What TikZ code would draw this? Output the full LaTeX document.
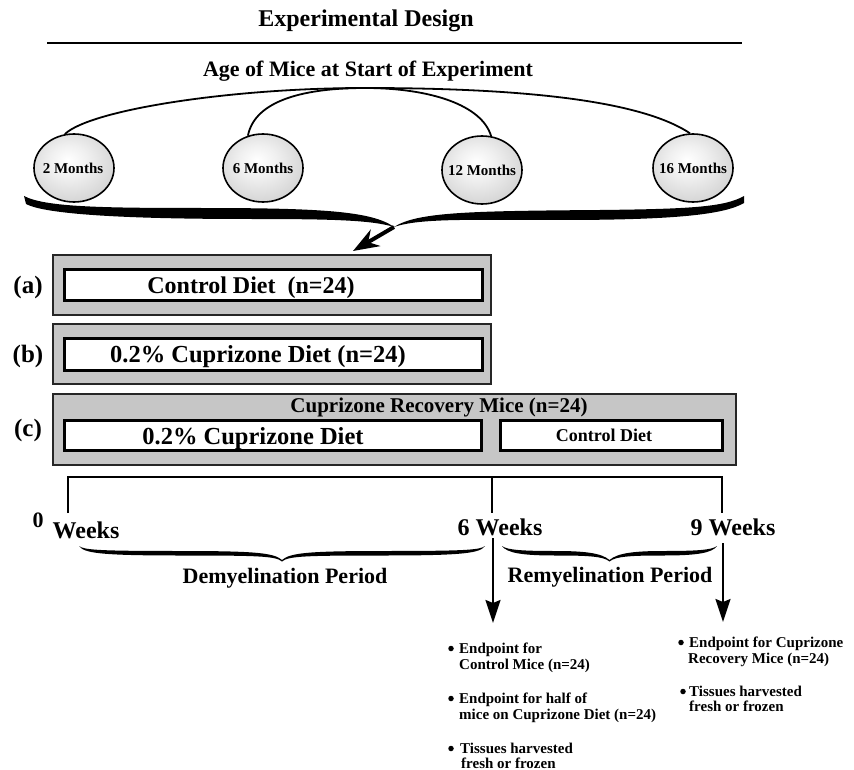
\documentclass[tikz,border=0pt]{standalone}
\usepackage{fontspec}
\setmainfont{Liberation Serif}
\usetikzlibrary{shapes.geometric,arrows.meta}

\pgfdeclareradialshading{agesh}{\pgfpoint{-4bp}{6bp}}{color(0bp)=(white); color(12bp)=(gray!12); color(52bp)=(gray!62); color(70bp)=(gray!62)}

\newcommand\periodbrace[3]{%
  \pgfmathsetmacro\pbl{#1}%
  \pgfmathsetmacro\pbr{#2}%
  \pgfmathsetmacro\pby{#3}%
  \pgfmathsetmacro\pbm{(#1+#2)/2}%
  \pgfmathsetmacro\pbqa{#1+(#2-#1)/4}%
  \pgfmathsetmacro\pbqb{#2-(#2-#1)/4}%
  \fill (\pbl,\pby) .. controls (\pbl+5,\pby+4) and (\pbl+20,\pby+5) .. (\pbqa,\pby+5)
    .. controls (\pbm-25,\pby+5) and (\pbm-8,\pby+7) .. (\pbm,\pby+14)
    .. controls (\pbm+8,\pby+7) and (\pbm+25,\pby+5) .. (\pbqb,\pby+5)
    .. controls (\pbr-20,\pby+5) and (\pbr-5,\pby+4) .. (\pbr,\pby)
    .. controls (\pbr-5,\pby+7) and (\pbr-20,\pby+9.5) .. (\pbqb,\pby+9.5)
    .. controls (\pbm+25,\pby+9.5) and (\pbm+6,\pby+10) .. (\pbm,\pby+15.5)
    .. controls (\pbm-6,\pby+10) and (\pbm-25,\pby+9.5) .. (\pbqa,\pby+9.5)
    .. controls (\pbl+20,\pby+9.5) and (\pbl+5,\pby+7) .. (\pbl,\pby) -- cycle;}

\begin{document}
\begin{tikzpicture}[x=1pt,y=-1pt,
  every node/.style={font=\bfseries, inner sep=0pt},
  fsz/.style={font=\bfseries\fontsize{#1}{#1}\selectfont},
  outerbox/.style={draw=black!85, line width=2pt, fill=gray!45, inner sep=0pt},
  innerbox/.style={draw=black, line width=2.6pt, fill=white, inner sep=0pt},
  agecirc/.style={ellipse, draw=black, line width=1.6pt, minimum width=80pt,
    minimum height=68pt, inner sep=0pt, shade, shading=agesh},
  arcline/.style={line width=1.8pt},
  tline/.style={line width=2pt},
  downarrow/.style={line width=2pt, -{Stealth[length=23pt,width=15pt,inset=3pt]}},
  bul/.style={circle, fill=black, minimum size=5.5pt, inner sep=0pt},
  btxt/.style={fsz=15, anchor=base west}
]
\useasboundingbox (0,0) rectangle (854,770);

% title
\node[fsz=24, anchor=base] (title) at (366,27) {Experimental Design};
\coordinate (hl) at (47,43);
\coordinate (hr) at (742,43);
\draw[line width=2pt] (hl) -- (hr);
\node[fsz=22, anchor=base] (age) at (368,77) {Age of Mice at Start of Experiment};

% age ellipses
\node[agecirc] (m2) at (74,168) {};
\node[agecirc] (m6) at (263,168) {};
\node[agecirc] (m12) at (482,170) {};
\node[agecirc] (m16) at (693,168) {};
\node[fsz=15] (l2) at (73,168) {2 Months};
\node[fsz=15] (l6) at (m6) {6 Months};
\node[fsz=15] (l12) at (m12) {12 Months};
\node[fsz=15] (l16) at (m16) {16 Months};

\coordinate (apex) at (365,88);
\draw[arcline] (m2.105) .. controls (90,110) and (230,88) .. (apex)
  .. controls (520,88) and (640,100) .. (m16.95);
\draw[arcline] (m6.115) .. controls (255,100) and (305,88) .. (apex)
  .. controls (430,88) and (482,105) .. (m12.75);

% big swoosh brace
\coordinate (merge) at (394,227);
\coordinate (tip) at (353,251);
\fill (24,196) .. controls (45,207) and (100,208) .. (200,208)
  .. controls (320,208) and (372,211) .. (merge)
  .. controls (372,220) and (330,219) .. (250,219)
  .. controls (120,219) and (45,214) .. (26,204) -- cycle;
\fill (744,196) .. controls (725,207) and (690,209) .. (600,210)
  .. controls (470,211) and (417,212) .. (merge)
  .. controls (420,218) and (470,220) .. (560,220)
  .. controls (680,220) and (725,214) .. (744,203) -- cycle;
\draw[line width=4pt, -{Stealth[length=26pt,width=19pt]}] (merge) -- (tip);

% boxes
\node[outerbox, minimum width=438pt, minimum height=60pt] (boxa) at (272,285) {};
\node[innerbox, minimum width=418pt, minimum height=31.5pt] (ina) at (273.5,285) {};
\node[fsz=24, anchor=base] (ta) at (251,293) {Control Diet\ \ (n=24)};
\node[fsz=25] (la) at (28,287) {(a)};

\node[outerbox, minimum width=438pt, minimum height=60pt] (boxb) at (272,354) {};
\node[innerbox, minimum width=418pt, minimum height=32.5pt] (inb) at (273.5,354.5) {};
\node[fsz=24.5, anchor=base] (tb) at (258,362.5) {0.2\% Cuprizone Diet (n=24)};
\node[fsz=25] (lb) at (28,356) {(b)};

\node[outerbox, minimum width=683pt, minimum height=71pt] (boxc) at (394.5,429.5) {};
\node[fsz=21, anchor=base] (tc) at (439,412) {Cuprizone Recovery Mice (n=24)};
\node[innerbox, minimum width=417.5pt, minimum height=30.5pt] (incl) at (273,435.5) {};
\node[innerbox, minimum width=222.5pt, minimum height=30.5pt] (incr) at (611.5,435.5) {};
\node[fsz=24.5, anchor=base] (tcl) at (253,444) {0.2\% Cuprizone Diet};
\node[fsz=18, anchor=base] (tcr) at (604,441) {Control Diet};
\node[fsz=25] (lc) at (28,430) {(c)};

% timeline
\coordinate (t0) at (68,477);
\coordinate (t6) at (492,477);
\coordinate (t9) at (722,477);
\coordinate (t0b) at (68,513);
\coordinate (t6b) at (492,513);
\coordinate (t9b) at (722,513);
\draw[tline] (t0b) -- (t0) -- (t9) -- (t9b);
\draw[tline] (t6) -- (t6b);

\node[fsz=22, anchor=base] (w0n) at (38,527) {0};
\node[fsz=24, anchor=base] (w0) at (86,538) {Weeks};
\node[fsz=24, anchor=base] (w6) at (500,535) {6 Weeks};
\node[fsz=24, anchor=base] (w9) at (733,535) {9 Weeks};

\periodbrace{79}{485}{546}
\periodbrace{502}{717}{546}
\node[fsz=22, anchor=base] (demy) at (285,583) {Demyelination Period};
\node[fsz=22, anchor=base] (remy) at (610,582) {Remyelination Period};

\coordinate (a6s) at (493,538);
\coordinate (a6e) at (493,623);
\coordinate (a9s) at (723,543);
\coordinate (a9e) at (723,622);
\draw[downarrow] (a6s) -- (a6e);
\draw[downarrow] (a9s) -- (a9e);

% endpoint notes, 6 weeks
\node[bul] (b1) at (451,648.5) {};
\node[btxt] (e1a) at (459,653) {Endpoint for};
\node[btxt] (e1b) at (459,669.5) {Control Mice (n=24)};
\node[bul] (b2) at (451,698.5) {};
\node[btxt] (e2a) at (459,703) {Endpoint for half of};
\node[btxt] (e2b) at (459,719.5) {mice on Cuprizone Diet (n=24)};
\node[bul] (b3) at (451,748.5) {};
\node[btxt] (e3a) at (460,753) {Tissues harvested};
\node[btxt] (e3b) at (461,768) {fresh or frozen};

% endpoint notes, 9 weeks
\node[bul] (b4) at (681,642.5) {};
\node[btxt] (f1a) at (689,647) {Endpoint for Cuprizone};
\node[btxt] (f1b) at (688,663) {Recovery Mice (n=24)};
\node[bul] (b5) at (683,691.5) {};
\node[btxt] (f2a) at (689,696) {Tissues harvested};
\node[btxt] (f2b) at (689,711.5) {fresh or frozen};
\end{tikzpicture}
\end{document}
